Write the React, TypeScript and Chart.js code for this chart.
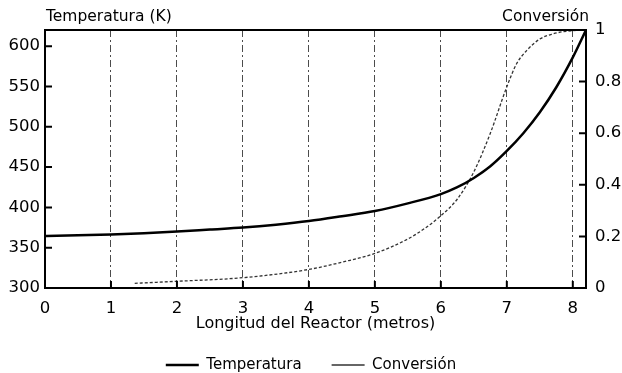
import React, { useEffect, useRef } from "react";
import { Chart, registerables } from "chart.js";

Chart.register(...registerables);

// ---- data ----
const tempLength = [0, 0.5, 1, 1.5, 2, 2.5, 3, 3.5, 4, 4.5, 5, 5.5, 6, 6.25, 6.5, 6.75, 7, 7.25, 7.5, 7.75, 8, 8.2];
const temperature = [364.5, 365.5, 366.5, 368, 370, 372.5, 375, 378.5, 383, 389, 395.5, 405, 416.5, 425, 436.5, 451, 470, 492, 518, 549, 586, 620];

const convLength = [1.36, 2, 3, 4, 4.5, 5, 5.5, 5.75, 6, 6.25, 6.5, 6.75, 7, 7.15, 7.3, 7.5, 7.7, 7.9, 8.2];
const conversion = [0.018, 0.026, 0.04, 0.072, 0.1, 0.134, 0.19, 0.23, 0.28, 0.345, 0.45, 0.6, 0.78, 0.87, 0.92, 0.965, 0.985, 0.995, 1.0];

const xTicks = [0, 1, 2, 3, 4, 5, 6, 7, 8];
const tempTicks = [300, 350, 400, 450, 500, 550, 600];
const convTicks = [0, 0.2, 0.4, 0.6, 0.8, 1];

const seriesNames = ["Temperatura", "Conversión"];
const leftTitle = "Temperatura (K)";
const rightTitle = "Conversión";
const xTitle = "Longitud del Reactor (metros)";

const FONT = "'DejaVu Sans', sans-serif";

const framePlugin = {
  id: "frameAndTitles",
  beforeUpdate(chart: any) {
    const lg = chart.legend;
    if (lg && !lg.__patched) {
      const orig = lg.fit.bind(lg);
      lg.fit = () => {
        orig();
        lg.height = 45.5;
      };
      lg.__patched = true;
    }
  },
  afterDraw(chart: any) {
    const { ctx, chartArea } = chart;
    const { left, right, top, bottom } = chartArea;
    const sx = chart.scales.x;
    const sy = chart.scales.y;
    const sy1 = chart.scales.y1;
    ctx.save();
    ctx.strokeStyle = "#000";
    ctx.lineWidth = 2;
    ctx.setLineDash([]);
    // inward ticks
    ctx.beginPath();
    sy.ticks.forEach((t: any) => {
      const y = sy.getPixelForValue(t.value);
      ctx.moveTo(left, y);
      ctx.lineTo(left + 7, y);
    });
    sy1.ticks.forEach((t: any) => {
      const y = sy1.getPixelForValue(t.value);
      ctx.moveTo(right, y);
      ctx.lineTo(right - 7, y);
    });
    sx.ticks.forEach((t: any) => {
      const x = sx.getPixelForValue(t.value);
      ctx.moveTo(x, bottom);
      ctx.lineTo(x, bottom - 7);
    });
    ctx.stroke();
    // frame
    ctx.strokeRect(left, top, right - left, bottom - top);
    // titles over the axes
    ctx.fillStyle = "#000";
    ctx.font = `15.5px ${FONT}`;
    ctx.textBaseline = "middle";
    ctx.textAlign = "left";
    ctx.fillText(leftTitle, left + 1, 17);
    ctx.textAlign = "right";
    ctx.fillText(rightTitle, right + 3, 17);
    ctx.restore();
  },
};

export default function App() {
  const ref = useRef<HTMLCanvasElement | null>(null);

  useEffect(() => {
    if (!ref.current) return;
    const chart = new Chart(ref.current, {
      type: "line",
      data: {
        datasets: [
          {
            label: seriesNames[0],
            data: tempLength.map((x, i) => ({ x, y: temperature[i] })),
            yAxisID: "y",
            borderColor: "#000",
            backgroundColor: "#000",
            borderWidth: 2.5,
            pointRadius: 0,
            pointStyle: "line",
            cubicInterpolationMode: "monotone",
          },
          {
            label: seriesNames[1],
            data: convLength.map((x, i) => ({ x, y: conversion[i] })),
            yAxisID: "y1",
            borderColor: "#333",
            backgroundColor: "#333",
            borderWidth: 1.3,
            borderDash: [3, 2],
            pointRadius: 0,
            pointStyle: "line",
            cubicInterpolationMode: "monotone",
          },
        ],
      },
      options: {
        animation: false,
        responsive: false,
        layout: { padding: { top: 30, left: 0, right: 0, bottom: 0 } },
        plugins: {
          tooltip: { enabled: false },
          legend: {
            display: true,
            position: "bottom",
            labels: {
              usePointStyle: true,
              pointStyleWidth: 33,
              padding: 30,
              color: "#000",
              font: { family: FONT, size: 15 },
            },
          },
        },
        scales: {
          x: {
            type: "linear",
            min: 0,
            max: 8.2,
            afterBuildTicks: (s: any) => {
              s.ticks = xTicks.map((v) => ({ value: v }));
            },
            afterFit: (s: any) => {
              s.height = 39.5;
            },
            ticks: {
              color: "#000",
              padding: 11,
              font: { family: FONT, size: 16.5 },
              callback: (v: any) => String(v),
            },
            grid: {
              display: true,
              drawOnChartArea: true,
              drawTicks: false,
              color: "rgba(0,0,0,0.7)",
              lineWidth: 1,
            },
            border: { display: false, dash: [7, 3, 2, 3] },
            title: {
              display: true,
              text: xTitle,
              color: "#000",
              font: { family: FONT, size: 16 },
              padding: { top: 0, bottom: -6 },
            },
          },
          y: {
            type: "linear",
            position: "left",
            min: 300,
            max: 620,
            afterBuildTicks: (s: any) => {
              s.ticks = tempTicks.map((v) => ({ value: v }));
            },
            afterFit: (s: any) => {
              s.width = 45;
            },
            ticks: {
              color: "#000",
              padding: 5,
              font: { family: FONT, size: 16.5 },
              callback: (v: any) => String(v),
            },
            grid: { drawOnChartArea: false, drawTicks: false },
            border: { display: false },
          },
          y1: {
            type: "linear",
            position: "right",
            min: 0,
            max: 1,
            afterBuildTicks: (s: any) => {
              s.ticks = convTicks.map((v) => ({ value: v }));
            },
            afterFit: (s: any) => {
              s.width = 36;
            },
            ticks: {
              color: "#000",
              padding: 9,
              font: { family: FONT, size: 16.5 },
              callback: (v: any) => String(v),
            },
            grid: { drawOnChartArea: false, drawTicks: false },
            border: { display: false },
          },
        },
      },
      plugins: [framePlugin],
    } as any);
    return () => chart.destroy();
  }, []);

  return (
    <div style={{ position: "absolute", left: 0, top: 0, width: 622, height: 373, background: "#fff" }}>
      <canvas ref={ref} width={622} height={373} />
    </div>
  );
}
